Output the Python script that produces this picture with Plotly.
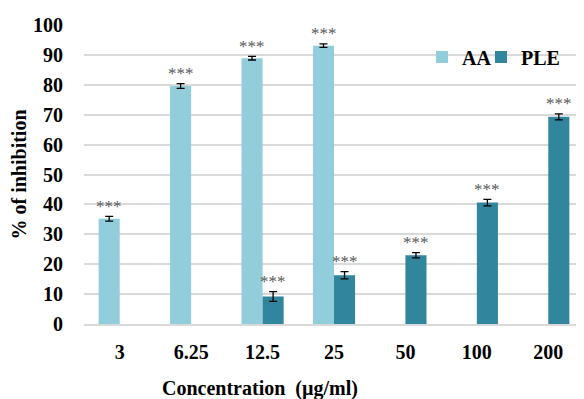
import plotly.graph_objects as go

categories = ["3", "6.25", "12.5", "25", "50", "100", "200"]
aa_values = [35.2, 79.6, 88.9, 93.1, None, None, None]
aa_err = [0.8, 0.8, 0.6, 0.6, None, None, None]
ple_values = [None, None, 9.2, 16.3, 23.0, 40.6, 69.3]
ple_err = [None, None, 1.6, 1.2, 0.9, 1.1, 1.0]
sig_label = "***"

AA_COLOR = "#92CDDC"
PLE_COLOR = "#31859C"
FONT = "Liberation Serif"

# page has an 8px body margin, so the figure is drawn 8px smaller
W, H = 576, 391
L, T, B = 76, 17, 75

fig = go.Figure()
fig.add_trace(go.Bar(
    name="AA", x=categories, y=aa_values, marker_color=AA_COLOR,
    marker_line_width=0, legend="legend",
    error_y=dict(type="data", array=aa_err, color="black", thickness=1.3, width=4),
))
fig.add_trace(go.Bar(
    name="PLE", x=categories, y=ple_values, marker_color=PLE_COLOR,
    marker_line_width=0, legend="legend2",
    error_y=dict(type="data", array=ple_err, color="black", thickness=1.3, width=4),
))

annotations = []
for vals, errs, shift in [(aa_values, aa_err, -10.5), (ple_values, ple_err, 10.5)]:
    for i, (v, e) in enumerate(zip(vals, errs)):
        if v is None:
            continue
        annotations.append(dict(
            x=i, y=v + e, xref="x", yref="y", text=sig_label, showarrow=False,
            xshift=shift, yshift=10, font=dict(family=FONT, size=17, color="#595959"),
        ))

pw = W - L
ph = H - T - B
annotations.append(dict(
    x=(252 - L) / pw, y=-(380 - (H - B)) / ph, xref="paper", yref="paper",
    xanchor="center", yanchor="middle",
    text="<b>Concentration\u00a0\u00a0(µg/ml)</b>",
    showarrow=False, font=dict(family=FONT, size=20, color="black"),
))

legend_style = dict(
    orientation="h", y=1 - (49 - T) / ph, xanchor="left", yanchor="middle",
    font=dict(family=FONT, size=20, color="black", weight="bold"),
    bgcolor="rgba(0,0,0,0)", itemwidth=30,
)

fig.update_layout(
    width=W, height=H,
    margin=dict(l=L, r=0, t=T, b=B, autoexpand=False),
    paper_bgcolor="white", plot_bgcolor="white",
    barmode="group", bargap=0.41, bargroupgap=0,
    font=dict(family=FONT, color="black"),
    showlegend=True,
    legend=dict(x=(414 - L) / pw, **legend_style),
    legend2=dict(x=(473 - L) / pw, **legend_style),
    xaxis=dict(
        type="category", showgrid=False, showline=True, linecolor="#D9D9D9", linewidth=1.5,
        ticks="outside", ticklen=9, tickcolor="rgba(0,0,0,0)",
        tickfont=dict(family=FONT, size=20, color="black", weight="bold"),
    ),
    yaxis=dict(
        range=[0, 100], dtick=10, showgrid=True, gridcolor="#D9D9D9", gridwidth=1.5,
        zeroline=False, showline=False,
        ticks="outside", ticklen=16, tickcolor="rgba(0,0,0,0)",
        tickfont=dict(family=FONT, size=20, color="black", weight="bold"),
        title=dict(text="<b>% of inhibition</b>", font=dict(family=FONT, size=20, color="black"), standoff=8),
    ),
    annotations=annotations,
)

fig.write_html("out.html")
